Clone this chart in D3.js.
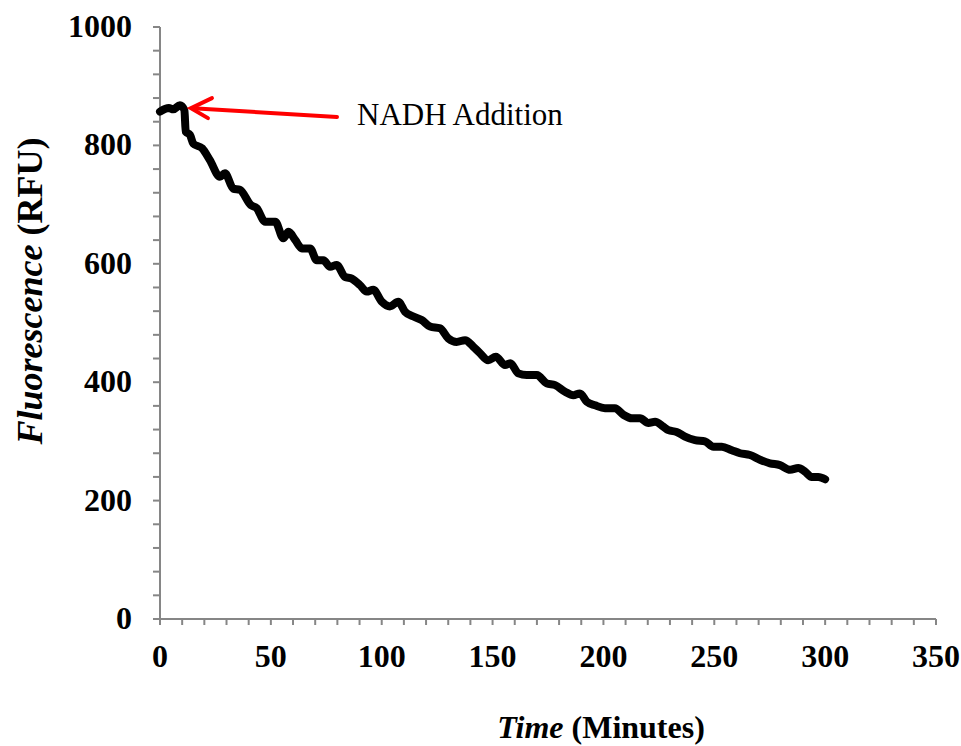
<!DOCTYPE html>
<html>
<head>
<meta charset="utf-8">
<script src="https://cdn.jsdelivr.net/npm/d3@7"></script>
<style>
  html, body { margin: 0; padding: 0; background: #fff; }
  svg { display: block; }
  text { font-family: "Liberation Serif", "Times New Roman", serif; }
</style>
</head>
<body>
<svg id="chart" width="961" height="746"></svg>
<script>
// Fluorescence decay after NADH addition
const timeMin = [0, 4, 6, 9, 11, 11.6, 13.5, 15, 19, 22.5, 27, 29.3, 33, 36, 41, 43.6,
  47.4, 52, 55.6, 58, 61, 64, 67.7, 70.7, 73.7, 76.7, 79.7, 83.4, 86.5, 90.2, 93.2, 96.2,
  100, 103.7, 107.5, 110.5, 114.3, 118, 121.8, 126.3, 130, 133.8, 137.6, 141.3, 144.3, 148,
  151.5, 155.6, 158, 161.6, 165.4, 170, 174.4, 178.2, 182.7, 186.4, 189.4, 192.5, 196.2,
  200.7, 205.2, 209, 212.8, 216.5, 220.3, 223.3, 227, 229.3, 233, 236.8, 241.3, 245.8,
  249.6, 253.4, 257.9, 261.6, 266.1, 270.6, 275.1, 279.6, 284.2, 287.9, 290.9, 293.9,
  296.9, 300];
const rfu = [857, 863, 861, 868, 860, 823, 818, 803, 795, 775, 747, 753, 727, 725, 699, 694,
  671, 671, 643, 654, 640, 626, 626, 606, 606, 595, 598, 578, 575, 564, 553, 556,
  536, 528, 536, 519, 511, 505, 494, 491, 474, 468, 471, 460, 449, 437,
  443, 429, 432, 415, 412, 412, 398, 395, 384, 378, 381, 367, 361,
  356, 356, 345, 339, 339, 331, 333, 325, 319, 316, 308, 302, 300,
  291, 291, 285, 280, 277, 269, 263, 260, 252, 255, 249, 240,
  240, 236];

const xTicks = [0, 50, 100, 150, 200, 250, 300, 350];
const yTicks = [0, 200, 400, 600, 800, 1000];
const xMinorStep = 10;
const yMinorStep = 40;

const svg = d3.select("#chart");
const x = d3.scaleLinear().domain([0, 350]).range([160, 936]);
const y = d3.scaleLinear().domain([0, 1000]).range([619, 27]);
const axisColor = "#868686";

// Minor ticks (every 10 min / 40 RFU)
const xMinor = d3.range(0, 350 + 0.001, xMinorStep);
const yMinor = d3.range(0, 1000 + 0.001, yMinorStep);

svg.append("g").selectAll("line").data(xMinor).join("line")
  .attr("x1", d => x(d)).attr("x2", d => x(d))
  .attr("y1", y(0)).attr("y2", y(0) + 6)
  .attr("stroke", axisColor).attr("stroke-width", 2);

svg.append("g").selectAll("line").data(yMinor).join("line")
  .attr("x1", x(0) - 7).attr("x2", x(0))
  .attr("y1", d => y(d)).attr("y2", d => y(d))
  .attr("stroke", axisColor).attr("stroke-width", 2);

// Axis lines
svg.append("line").attr("x1", x(0)).attr("x2", x(350)).attr("y1", y(0)).attr("y2", y(0))
  .attr("stroke", axisColor).attr("stroke-width", 2);
svg.append("line").attr("x1", x(0)).attr("x2", x(0)).attr("y1", y(0)).attr("y2", y(1000))
  .attr("stroke", axisColor).attr("stroke-width", 2);

// Tick labels
svg.append("g").selectAll("text").data(xTicks).join("text")
  .attr("x", d => x(d)).attr("y", y(0) + 48)
  .attr("text-anchor", "middle")
  .attr("font-size", 32).attr("font-weight", "bold")
  .text(d => d);

svg.append("g").selectAll("text").data(yTicks).join("text")
  .attr("x", 132).attr("y", d => y(d) + 10)
  .attr("text-anchor", "end")
  .attr("font-size", 32).attr("font-weight", "bold")
  .text(d => d);

// Axis titles
const yTitle = svg.append("text")
  .attr("transform", `translate(42, 291) rotate(-90)`)
  .attr("text-anchor", "middle")
  .attr("font-size", 36).attr("font-weight", "bold");
yTitle.append("tspan").attr("font-style", "italic").text("Fluorescence");
yTitle.append("tspan").text(" (RFU)");

const xTitle = svg.append("text")
  .attr("x", 601).attr("y", 738)
  .attr("text-anchor", "middle")
  .attr("font-size", 32).attr("font-weight", "bold");
xTitle.append("tspan").attr("font-style", "italic").text("Time");
xTitle.append("tspan").text(" (Minutes)");

// Data trace
const line = d3.line()
  .x((d, i) => x(timeMin[i]))
  .y(d => y(d))
  .curve(d3.curveMonotoneX);
svg.append("path")
  .attr("d", line(rfu))
  .attr("fill", "none")
  .attr("stroke", "#000")
  .attr("stroke-width", 8)
  .attr("stroke-linejoin", "round")
  .attr("stroke-linecap", "round");

// Annotation arrow at the addition point
const tipX = x(timeMin[3]) + 11, tipY = y(rfu[3]) + 3;
svg.append("line")
  .attr("x1", 337).attr("y1", 117).attr("x2", tipX + 2).attr("y2", tipY)
  .attr("stroke", "#ff0000").attr("stroke-width", 4).attr("stroke-linecap", "round");
svg.append("path")
  .attr("d", `M${tipX + 21},${tipY - 10} L${tipX},${tipY} L${tipX + 17},${tipY + 10}`)
  .attr("fill", "none").attr("stroke", "#ff0000").attr("stroke-width", 4)
  .attr("stroke-linecap", "round").attr("stroke-linejoin", "miter");

svg.append("text")
  .attr("x", 357).attr("y", 125)
  .attr("font-size", 31)
  .text("NADH Addition");
</script>
</body>
</html>
